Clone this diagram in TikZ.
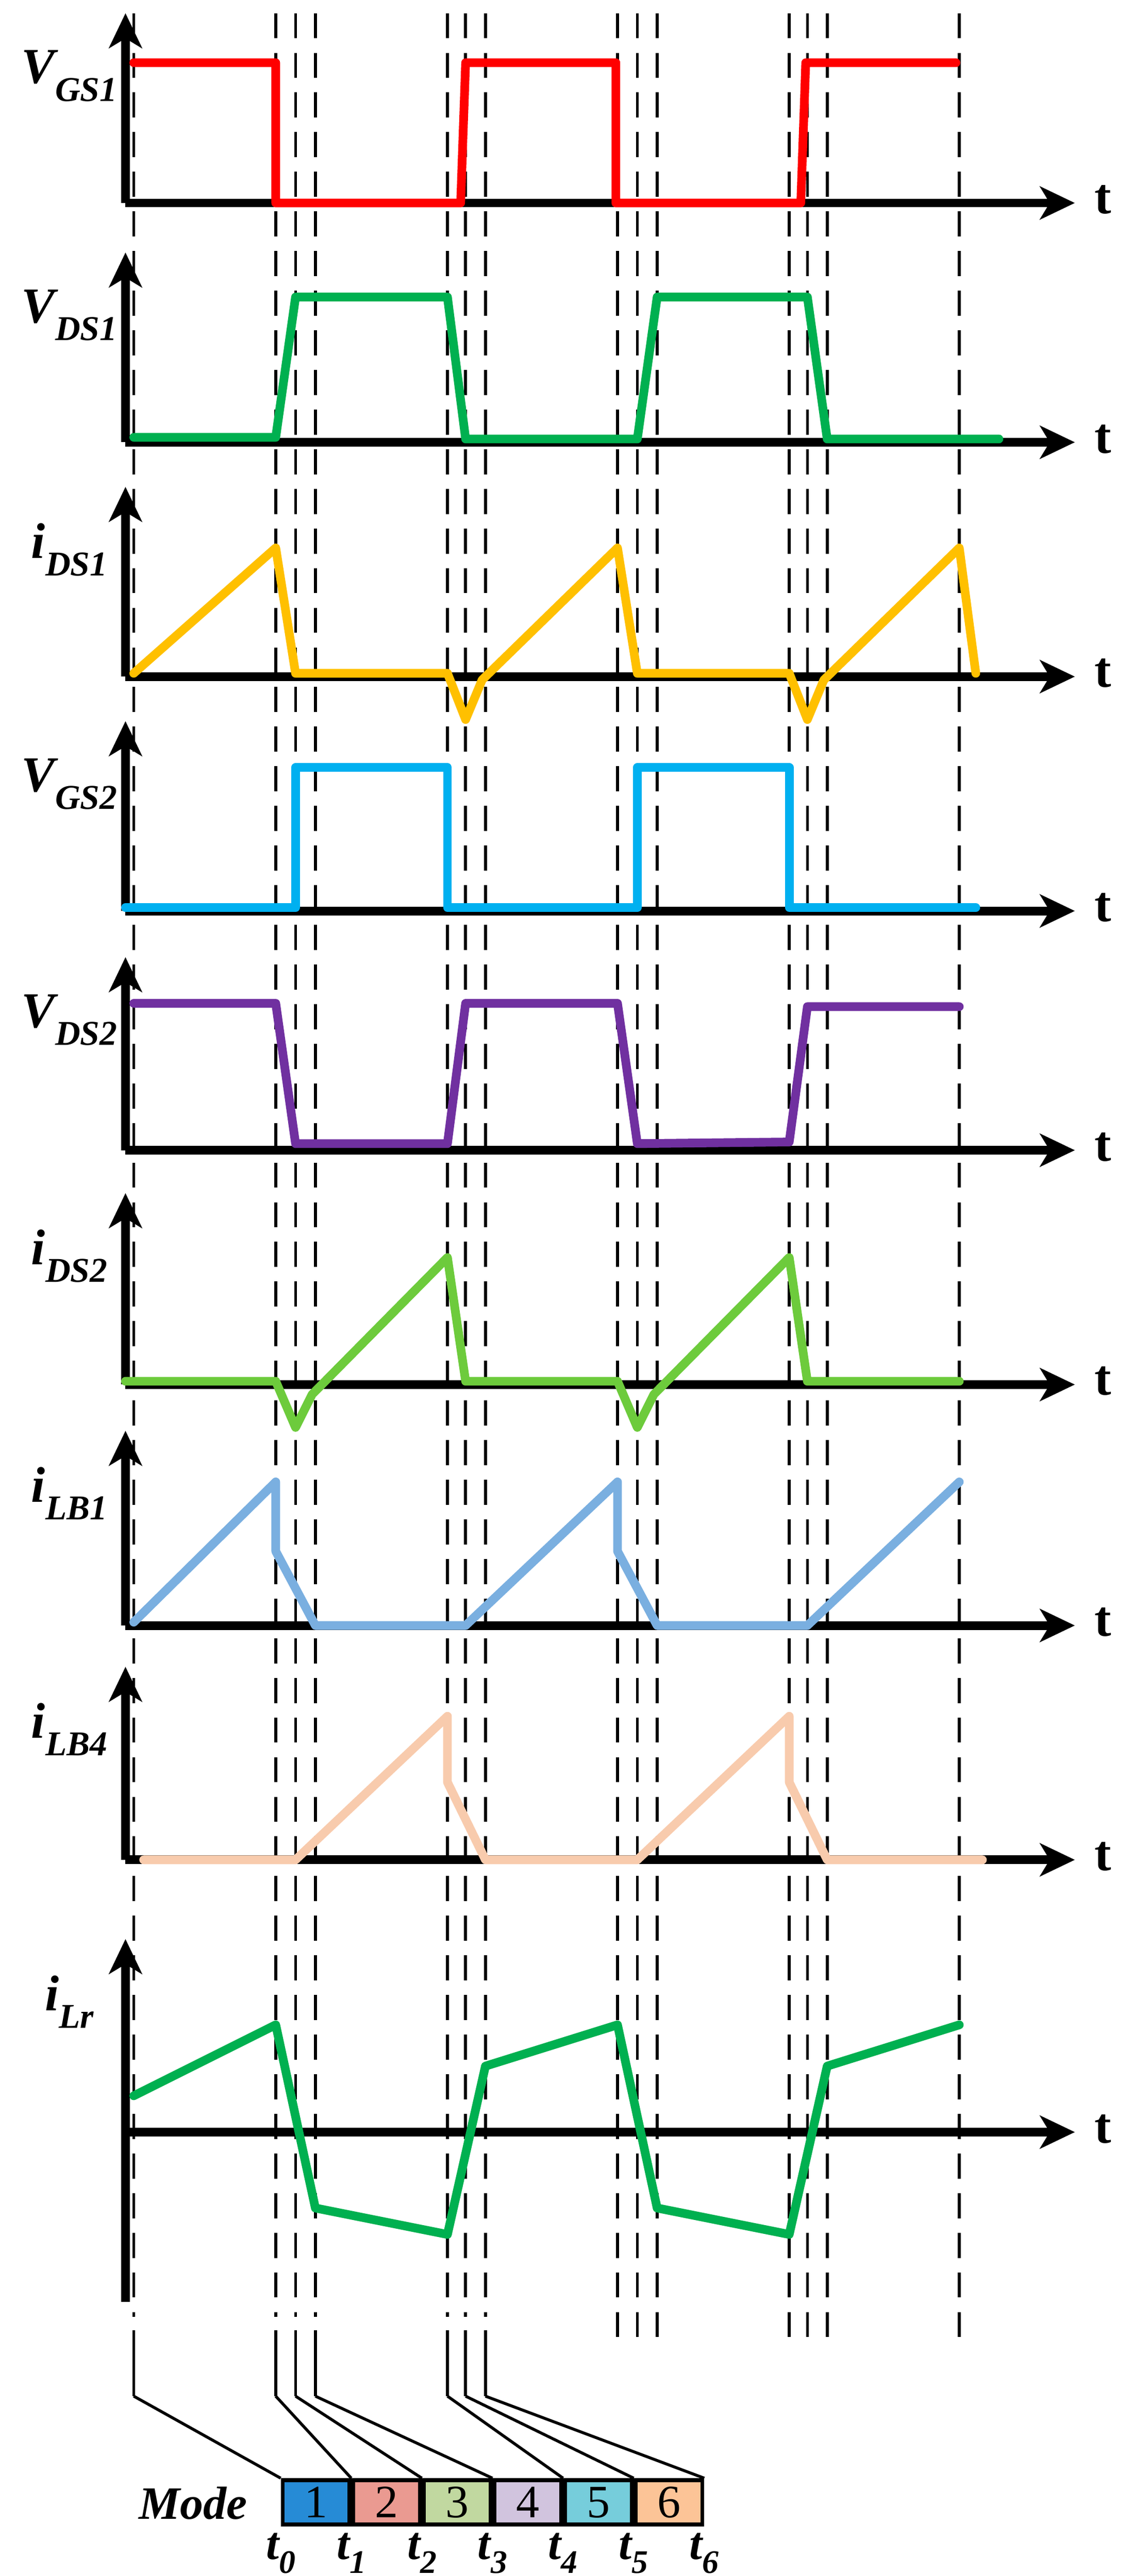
\documentclass[tikz,border=0pt]{standalone}
\usepackage{fontspec}
\setmainfont{Liberation Serif}
\usetikzlibrary{arrows.meta}
\newcommand{\sig}[2]{\bfseries\itshape #1\raisebox{-0.35em}{\fontsize{18}{18}\selectfont #2}}
\definecolor{cgreen}{HTML}{00B050}
\definecolor{corange}{HTML}{FFC000}
\definecolor{ccyan}{HTML}{00B0F0}
\definecolor{cpurple}{HTML}{7030A0}
\definecolor{clgreen}{HTML}{6DCB3C}
\definecolor{cblue}{HTML}{7AAFE0}
\definecolor{cpeach}{HTML}{F8CBAD}
\definecolor{mode1}{RGB}{38,139,214}
\definecolor{mode2}{RGB}{234,154,145}
\definecolor{mode3}{RGB}{193,216,160}
\definecolor{mode4}{RGB}{209,196,222}
\definecolor{mode5}{RGB}{118,205,219}
\definecolor{mode6}{RGB}{252,196,151}
\tikzset{
  axis/.style = {line width=4.5pt, -{Stealth[length=18pt,width=17pt,inset=5pt]}},
  wave/.style = {line width=4.5pt, line join=round, line cap=round},
  guide/.style = {line width=1.5pt, dash pattern=on 13pt off 7.5pt},
  lbl/.style = {font=\fontsize{26}{26}\selectfont},
  tlbl/.style = {font=\fontsize{24}{24}\selectfont\bfseries\itshape},
  cell/.style = {draw, line width=2pt, minimum width=34.5pt, minimum height=23pt, inner sep=0pt, font=\fontsize{24}{24}\selectfont}
}
\begin{document}
\begin{tikzpicture}[x=0.03cm, y=-0.03cm]
      \useasboundingbox (0,0) rectangle (686,1561);
      % guide lines
      \foreach \x in {81,167,179,191,271,282,294}{
        \draw [guide] (\x,8) -- (\x,1404);
        \draw [line width=1.5pt] (\x,1412) -- (\x,1452);
      }
      \foreach \x in {374,386,398,478,489,501,581}{
        \draw [guide] (\x,8) -- (\x,1422);
      }
      % axes
      \foreach \base/\top/\name/\sub [count=\k] in {
          123/8/V/GS1, 268/153/V/DS1, 410/295/i/DS1,
          552/437/V/GS2, 697/580/V/DS2, 839/723/i/DS2,
          985/867/i/LB1, 1127/1010/i/LB4, 1292/1175/i/Lr}{
        \coordinate (o\k) at (76,\base);
        \draw [axis] (76,\base) -- (76,\top);
        \draw [axis] (o\k) -- (651,\base);
        \node [lbl] at (668,\base-2) {\bfseries t};
        \node [lbl] at (42,\top+38) {\sig{\name}{\sub}};
      }
      \draw [line width=4.5pt] (o9) -- (76,1395);
      % waveforms
      \draw [wave, red] (81,38) -- (167,38) -- (167,123) -- (279,123) -- (282,38) -- (373,38)
            -- (373,123) -- (485,123) -- (488,38) -- (579,38);
      \draw [wave, cgreen] (81,265) -- (167,265) -- (179,180) -- (271,180) -- (282,266) -- (386,266)
            -- (398,180) -- (489,180) -- (501,266) -- (605,266);
      \draw [wave, corange] (81,408) -- (167,332) -- (179,408) -- (271,408) -- (282,436) -- (292,412)
            -- (374,332) -- (386,408) -- (478,408) -- (489,436) -- (499,412) -- (581,332) -- (591,408);
      \draw [wave, ccyan] (76,550) -- (179,550) -- (179,465) -- (271,465) -- (271,550) -- (386,550)
            -- (386,465) -- (478,465) -- (478,550) -- (591,550);
      \draw [wave, cpurple] (81,608) -- (167,608) -- (179,693) -- (271,693) -- (282,608) -- (374,608)
            -- (386,693) -- (478,692) -- (489,610) -- (581,610);
      \draw [wave, clgreen] (76,837) -- (167,837) -- (179,865) -- (189,845) -- (271,762) -- (282,837)
            -- (374,837) -- (386,865) -- (396,845) -- (478,762) -- (489,837) -- (581,837);
      \draw [wave, cblue] (81,983) -- (167,898) -- (167,940) -- (191,985) -- (282,985) -- (374,898)
            -- (374,940) -- (398,985) -- (489,985) -- (581,898);
      \draw [wave, cpeach] (87,1127) -- (179,1127) -- (271,1040) -- (271,1080) -- (294,1127) -- (386,1127)
            -- (478,1040) -- (478,1080) -- (501,1127) -- (595,1127);
      \draw [wave, cgreen] (81,1270) -- (167,1227) -- (191,1338) -- (271,1354) -- (294,1252) -- (374,1227)
            -- (398,1338) -- (478,1354) -- (501,1252) -- (581,1227);
      % mode bar
      \node [cell, fill=mode1, anchor=south west] (m1) at (170,1531) {1};
      \foreach \i [count=\j from 1] in {2,...,6}{
        \node [cell, fill=mode\i, anchor=west] (m\i) at (m\j.east) {\i};
      }
      \node [tlbl] (mode) at (117,1517) {Mode};
      \draw [line width=1.5pt] (81,1452) -- (m1.north west);
      \foreach \x/\c in {167/m1, 179/m2, 191/m3, 271/m4, 282/m5, 294/m6}{
        \draw [line width=1.5pt] (\x,1452) -- (\c.north east);
      }
      \foreach \c [count=\k from 0] in {m1,m2,m3,m4,m5,m6}{
        \node [tlbl, anchor=north] at (\c.south west) {t\raisebox{-0.3em}{\fontsize{17}{17}\selectfont\k}};
      }
      \node [tlbl, anchor=north] at (m6.south east) {t\raisebox{-0.3em}{\fontsize{17}{17}\selectfont 6}};
    \end{tikzpicture}
\end{document}
